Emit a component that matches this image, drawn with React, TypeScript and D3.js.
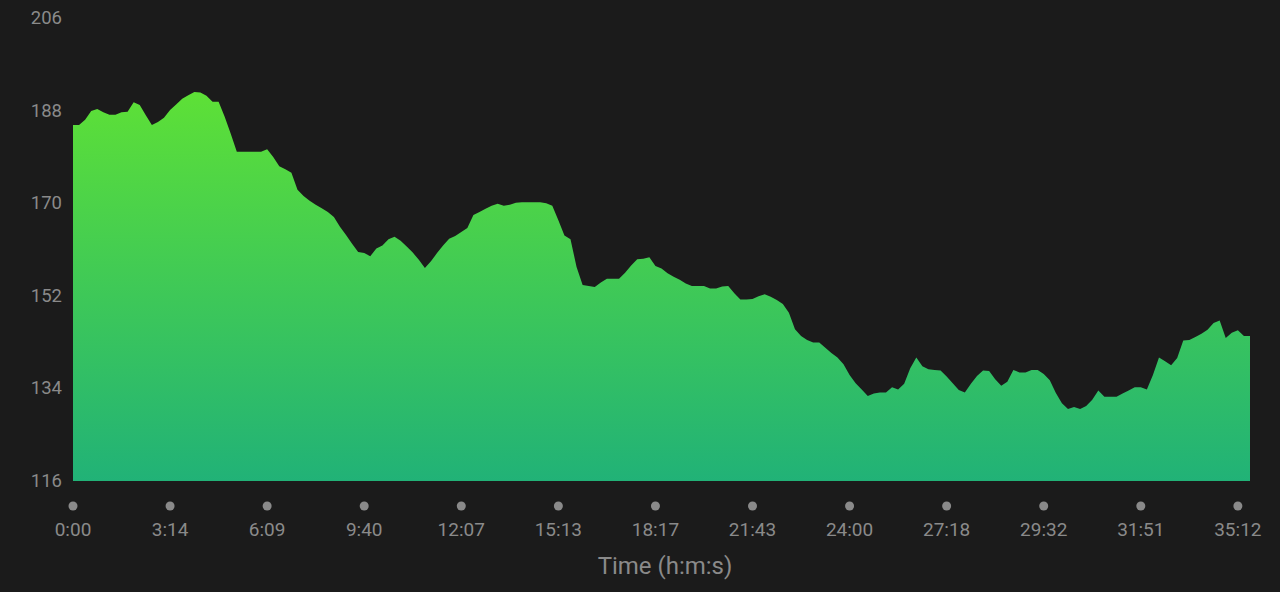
import React from "react";
import * as d3 from "d3";

const heartRate: number[] = [
  185.2, 185.2, 186.2, 187.9, 188.3, 187.7, 187.2, 187.2, 187.7, 187.8,
  189.6, 189.1, 187.1, 185.2, 185.8, 186.6, 188.1, 189.2, 190.3, 191.0,
  191.6, 191.5, 190.9, 189.7, 189.7, 186.8, 183.5, 180.0, 180.0, 180.0,
  180.0, 180.0, 180.5, 179.0, 177.2, 176.6, 175.9, 172.6, 171.4, 170.5,
  169.7, 169.0, 168.3, 167.3, 165.4, 163.8, 162.1, 160.5, 160.3, 159.7,
  161.2, 161.8, 163.0, 163.5, 162.7, 161.6, 160.4, 159.0, 157.4, 158.7,
  160.3, 161.8, 163.1, 163.6, 164.4, 165.2, 167.7, 168.3, 168.9, 169.5,
  169.9, 169.5, 169.7, 170.1, 170.2, 170.2, 170.2, 170.2, 170.0, 169.5,
  166.7, 163.7, 163.0, 157.6, 154.1, 153.9, 153.7, 154.6, 155.3, 155.3,
  155.3, 156.5, 157.9, 159.1, 159.2, 159.5, 157.8, 157.3, 156.4, 155.7,
  155.1, 154.4, 153.9, 153.9, 153.9, 153.4, 153.4, 153.8, 153.9, 152.5,
  151.3, 151.3, 151.4, 151.9, 152.3, 151.8, 151.2, 150.4, 148.7, 145.5,
  144.2, 143.4, 142.9, 142.9, 141.9, 140.9, 140.0, 138.7, 136.6, 135.0,
  133.8, 132.5, 133.0, 133.2, 133.2, 134.2, 133.8, 134.9, 137.9, 140.0,
  138.3, 137.7, 137.6, 137.5, 136.3, 135.0, 133.7, 133.2, 134.9, 136.4,
  137.5, 137.4, 135.8, 134.5, 135.3, 137.6, 137.1, 137.1, 137.6, 137.6,
  136.8, 135.6, 133.1, 131.1, 130.0, 130.4, 130.0, 130.6, 131.8, 133.6,
  132.4, 132.4, 132.4, 133.0, 133.6, 134.2, 134.2, 133.8, 136.6, 140.0,
  139.3, 138.5, 139.9, 143.3, 143.4, 144.0, 144.6, 145.4, 146.7, 147.2,
  143.8, 144.8, 145.3, 144.2, 144.2,
];

const timeLabels: string[] = [
  "0:00", "3:14", "6:09", "9:40", "12:07", "15:13", "18:17",
  "21:43", "24:00", "27:18", "29:32", "31:51", "35:12",
];
const samplesPerTick = 16;

const yTicks: number[] = [206, 188, 170, 152, 134, 116];
const yMin = 116;
const yMax = 206;
const xTitle = "Time (h:m:s)";

const W = 1280;
const H = 592;
const left = 73;
const right = 1250;
const top = 18;
const bottom = 481;
const FONT = "Roboto, 'Noto Sans', sans-serif";
const GREY = "#8a8a8a";

export default function App() {
  const x = d3.scaleLinear().domain([0, heartRate.length - 1]).range([left, right]);
  const y = d3.scaleLinear().domain([yMin, yMax]).range([bottom, top]);
  const area = d3
    .area<number>()
    .x((_, i) => x(i))
    .y0(y(yMin))
    .y1((d) => y(d))
    .curve(d3.curveLinear);

  return (
    <svg
      width={W}
      height={H}
      style={{ position: "fixed", left: 0, top: 0, background: "#1b1b1b", display: "block" }}
    >
      <defs>
        <linearGradient id="hrGrad" gradientUnits="userSpaceOnUse" x1={0} x2={0} y1={y(yMax)} y2={y(yMin)}>
          <stop offset="0%" stopColor="#69e92a" />
          <stop offset="100%" stopColor="#21b277" />
        </linearGradient>
      </defs>
      <rect x={0} y={0} width={W} height={H} fill="#1b1b1b" />
      <path d={area(heartRate) || ""} fill="url(#hrGrad)" />
      {yTicks.map((t) => (
        <text
          key={t}
          x={62}
          y={y(t)}
          textAnchor="end"
          dominantBaseline="central"
          fill={GREY}
          fontFamily={FONT}
          fontSize={18.5}
        >
          {t}
        </text>
      ))}
      {timeLabels.map((lab, k) => {
        const xi = x(k * samplesPerTick);
        return (
          <g key={lab}>
            <circle cx={xi} cy={506} r={4.5} fill={GREY} />
            <text
              x={xi}
              y={529}
              textAnchor="middle"
              dominantBaseline="central"
              fill={GREY}
              fontFamily={FONT}
              fontSize={19}
            >
              {lab}
            </text>
          </g>
        );
      })}
      <text
        x={665}
        y={566}
        textAnchor="middle"
        dominantBaseline="central"
        fill={GREY}
        fontFamily={FONT}
        fontSize={24}
      >
        {xTitle}
      </text>
    </svg>
  );
}
